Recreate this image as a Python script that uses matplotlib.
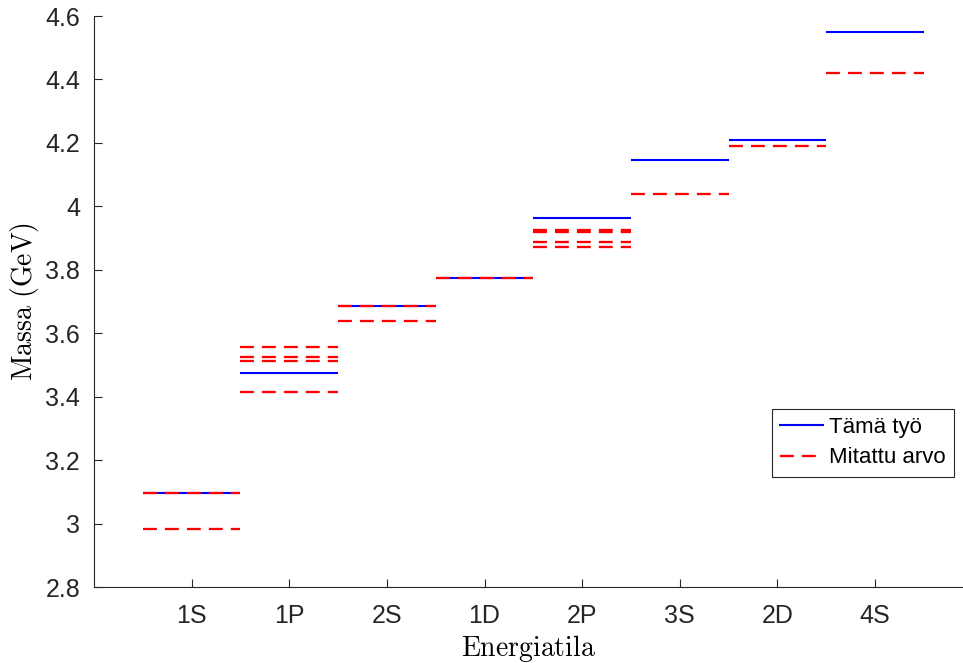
import matplotlib
matplotlib.use("Agg")
import matplotlib.pyplot as plt
from matplotlib.lines import Line2D

plt.rcParams["font.family"] = ["Liberation Sans", "DejaVu Sans"]
plt.rcParams["mathtext.fontset"] = "cm"
plt.rcParams["lines.scale_dashes"] = False

# charmonium levels (GeV)
states = ["1S", "1P", "2S", "1D", "2P", "3S", "2D", "4S"]
model_mass = [3.097, 3.475, 3.686, 3.773, 3.962, 4.147, 4.208, 4.549]
measured_mass = [
    [3.097, 2.984],
    [3.556, 3.525, 3.511, 3.415],
    [3.686, 3.638],
    [3.773],
    [3.927, 3.918, 3.887, 3.872],
    [4.039],
    [4.191],
    [4.421],
]
yticks = [2.8, 3.0, 3.2, 3.4, 3.6, 3.8, 4.0, 4.2, 4.4, 4.6]
yticklabels = ["2.8", "3", "3.2", "3.4", "3.6", "3.8", "4", "4.2", "4.4", "4.6"]

fig = plt.figure(figsize=(9.63, 6.63), dpi=100)
ax = fig.add_axes([0.0976, 0.1146, 0.9024, 0.8612])

half = 0.5
for i, (m, meas) in enumerate(zip(model_mass, measured_mass)):
    x = i + 1
    ax.hlines(m, x - half, x + half, colors="#0000ff", linewidth=1.5, zorder=2)
    for v in meas:
        ax.plot([x - half, x + half], [v, v], color="#ff0000", linewidth=1.65,
                dashes=(10, 5.8), zorder=3)

ax.set_xlim(0, 8.9)
ax.set_ylim(2.8, 4.6)
ax.set_xticks(range(1, len(states) + 1))
ax.set_xticklabels(states)
ax.set_yticks(yticks)
ax.set_yticklabels(yticklabels)

for side in ("top", "right"):
    ax.spines[side].set_visible(False)
for side in ("left", "bottom"):
    ax.spines[side].set_color("#262626")
    ax.spines[side].set_linewidth(0.8)
ax.tick_params(direction="in", length=6, width=0.8, color="#262626",
               labelcolor="#262626", labelsize=18)
ax.tick_params(axis="x", pad=12)
ax.tick_params(axis="y", pad=10)

ax.set_xlabel(r"$\mathrm{Energiatila}$", fontsize=20, labelpad=4)
ax.set_ylabel(r"$\mathrm{Massa\ (GeV)}$", fontsize=20, labelpad=3)

handles = [
    Line2D([], [], color="#0000ff", linewidth=1.5),
    Line2D([], [], color="#ff0000", linewidth=1.65, dashes=(10, 5.8)),
]
leg = ax.legend(handles, ["Tämä työ", "Mitattu arvo"], loc="lower right",
                bbox_to_anchor=(0.990, 0.193), fontsize=16, fancybox=False,
                framealpha=1, edgecolor="#262626", handlelength=1.9,
                handletextpad=0.3, borderpad=0.38, labelspacing=0.42,
                borderaxespad=0)
leg.get_frame().set_linewidth(0.8)

fig.savefig("out.png", dpi=100)
